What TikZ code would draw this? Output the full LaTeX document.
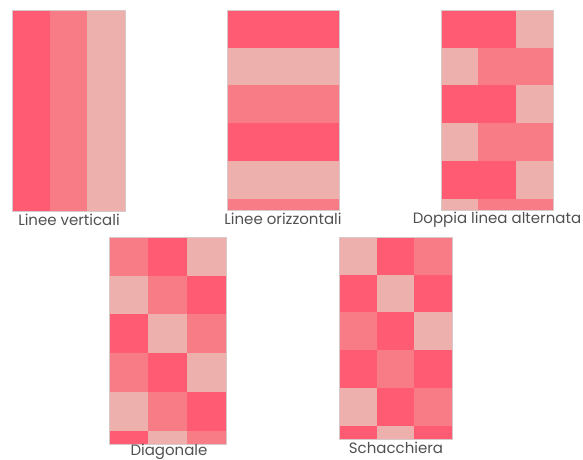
\documentclass[tikz,border=0pt]{standalone}
\usepackage{fontspec}
\setmainfont{Poppins}
\definecolor{cD}{HTML}{FF5C73}
\definecolor{cM}{HTML}{F87C86}
\definecolor{cL}{HTML}{EEB0AC}
\definecolor{txt}{HTML}{505050}
\definecolor{edge}{HTML}{D8C8C8}
\tikzset{
  lbl/.style={font=\fontsize{15}{17}\selectfont, text=txt, inner sep=0pt, anchor=base},
  frame/.style={draw=edge, line width=0.6pt}
}
\begin{document}
\begin{tikzpicture}[x=1pt,y=-1pt]
\useasboundingbox (0,0) rectangle (583,459);
% Panel 1: vertical lines
\begin{scope}
\clip (12,10) rectangle (125,211);
\foreach \i/\c in {0/cD,1/cM,2/cL}
  \fill[\c] ({12+\i*37.67},10) rectangle ({12+(\i+1)*37.67},211);
\end{scope}
\draw[frame] (12,10) rectangle (125,211);
\node[lbl] (l1) at (69,225.5) {Linee verticali};
% Panel 2: horizontal lines
\begin{scope}
\clip (227,10) rectangle (339,210);
\foreach \r/\c in {0/cD,1/cL,2/cM,3/cD,4/cL,5/cM}
  \fill[\c] (227,{10+\r*37.7}) rectangle (339,{10+(\r+1)*37.7});
\end{scope}
\draw[frame] (227,10) rectangle (339,210);
\node[lbl] (l2) at (283,224) {Linee orizzontali};
% Panel 3: double alternate line
\begin{scope}
\clip (441,10) rectangle (553,210);
\foreach \r/\a/\b/\c in {0/cD/cD/cL,1/cL/cM/cM,2/cD/cD/cL,3/cL/cM/cM,4/cD/cD/cL,5/cL/cM/cM}{
  \fill[\a] (441,{10+\r*37.7}) rectangle (478.3,{10+(\r+1)*37.7});
  \fill[\b] (478.3,{10+\r*37.7}) rectangle (515.7,{10+(\r+1)*37.7});
  \fill[\c] (515.7,{10+\r*37.7}) rectangle (553,{10+(\r+1)*37.7});
}
\end{scope}
\draw[frame] (441,10) rectangle (553,210);
\node[lbl] (l3) at (497,223) {Doppia linea alternata};
% Panel 4: diagonal
\begin{scope}
\clip (109,237) rectangle (226,444);
\foreach \r/\a/\b/\c in {0/cM/cD/cL,1/cL/cM/cD,2/cD/cL/cM,3/cM/cD/cL,4/cL/cM/cD,5/cD/cL/cM}{
  \fill[\a] (109,{237+\r*38.7}) rectangle (148,{237+(\r+1)*38.7});
  \fill[\b] (148,{237+\r*38.7}) rectangle (187,{237+(\r+1)*38.7});
  \fill[\c] (187,{237+\r*38.7}) rectangle (226,{237+(\r+1)*38.7});
}
\end{scope}
\draw[frame] (109,237) rectangle (226,444);
\node[lbl] (l4) at (169,455) {Diagonale};
% Panel 5: checkerboard
\begin{scope}
\clip (339,237) rectangle (452,439);
\foreach \r/\a/\b/\c in {0/cL/cD/cM,1/cD/cL/cD,2/cM/cD/cL,3/cD/cM/cD,4/cL/cD/cM,5/cD/cL/cD}{
  \fill[\a] (339,{237+\r*37.7}) rectangle (376.7,{237+(\r+1)*37.7});
  \fill[\b] (376.7,{237+\r*37.7}) rectangle (414.3,{237+(\r+1)*37.7});
  \fill[\c] (414.3,{237+\r*37.7}) rectangle (452,{237+(\r+1)*37.7});
}
\end{scope}
\draw[frame] (339,237) rectangle (452,439);
\node[lbl] (l5) at (396,453) {Schacchiera};
\end{tikzpicture}
\end{document}
